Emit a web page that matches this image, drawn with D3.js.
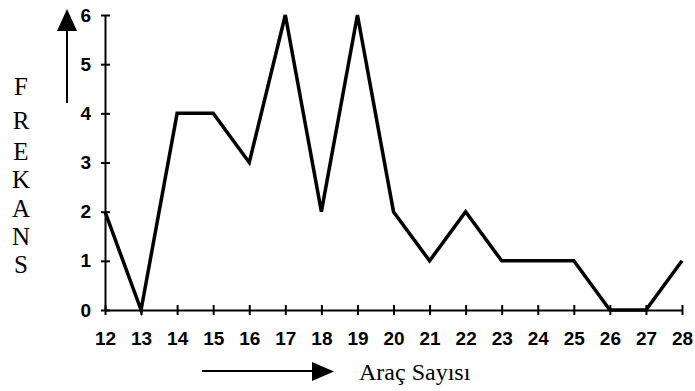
<!DOCTYPE html>
<html>
<head>
<meta charset="utf-8">
<script src="https://cdn.jsdelivr.net/npm/d3@7"></script>
<style>
  html, body { margin: 0; padding: 0; background: #fff; }
  svg { display: block; }
</style>
</head>
<body>
<svg id="chart" width="695" height="391"></svg>
<script>
// Vehicle counts (x) and their observed frequencies (y)
const aracSayisi = [12, 13, 14, 15, 16, 17, 18, 19, 20, 21, 22, 23, 24, 25, 26, 27, 28];
const frekans    = [2, 0, 4, 4, 3, 6, 2, 6, 2, 1, 2, 1, 1, 1, 0, 0, 1];
const yTicks     = [0, 1, 2, 3, 4, 5, 6];
const yLabelLetters = ["F", "R", "E", "K", "A", "N", "S"];
const xTitle = "Araç Sayısı";

const svg = d3.select("#chart");

const x = d3.scaleLinear().domain([12, 28]).range([105, 682]);
const y = d3.scaleLinear().domain([0, 6]).range([310, 15]);

// Axes: ticks cross the axis line on both sides
const yAxis = d3.axisLeft(y).tickValues(yTicks).tickSizeInner(4).tickSizeOuter(0).tickPadding(10)
  .tickFormat(d3.format("d"));
const xAxis = d3.axisBottom(x).tickValues(aracSayisi).tickSizeInner(5).tickSizeOuter(0).tickPadding(17)
  .tickFormat(d3.format("d"));

const gy = svg.append("g").attr("transform", "translate(105,0)").call(yAxis);
const gx = svg.append("g").attr("transform", "translate(0,310)").call(xAxis);

[gy, gx].forEach(g => {
  g.select(".domain").attr("stroke", "#000").attr("stroke-width", 2);
  g.selectAll(".tick line").attr("stroke", "#000").attr("stroke-width", 2);
  g.selectAll(".tick text")
    .attr("fill", "#000")
    .style("font-family", "'Liberation Sans', Arial, sans-serif")
    .style("font-weight", "bold")
    .style("font-size", "19px");
});
// extend tick marks to the other side of the axis line
gy.selectAll(".tick line").attr("x1", 5);
gx.selectAll(".tick line").attr("y1", -5);

// Frequency polygon
const line = d3.line().x((d, i) => x(aracSayisi[i])).y(d => y(d));
svg.append("path")
  .datum(frekans)
  .attr("d", line)
  .attr("fill", "none")
  .attr("stroke", "#000")
  .attr("stroke-width", 3.5)
  .attr("stroke-linejoin", "miter");

// Vertical axis title with upward arrow
svg.append("line").attr("x1", 67).attr("y1", 103).attr("x2", 67).attr("y2", 28)
  .attr("stroke", "#000").attr("stroke-width", 2);
svg.append("path").attr("d", "M67,9 L57,31 L77,31 Z").attr("fill", "#000");

// letter baselines, top to bottom
const letterBaselines = [95, 129, 160, 188, 217, 245, 273];
svg.append("g").selectAll("text")
  .data(yLabelLetters)
  .join("text")
  .attr("x", 21)
  .attr("y", (d, i) => letterBaselines[i])
  .attr("text-anchor", "middle")
  .style("font-family", "'Liberation Serif', 'Times New Roman', serif")
  .style("font-size", "25px")
  .attr("fill", "#000")
  .text(d => d);

// Horizontal axis title with rightward arrow
svg.append("line").attr("x1", 202).attr("y1", 371).attr("x2", 316).attr("y2", 371)
  .attr("stroke", "#000").attr("stroke-width", 2);
svg.append("path").attr("d", "M334,371.5 L312,362 L312,381 Z").attr("fill", "#000");

svg.append("text")
  .attr("x", 359).attr("y", 380)
  .style("font-family", "'Liberation Serif', 'Times New Roman', serif")
  .style("font-size", "24px")
  .attr("fill", "#000")
  .text(xTitle);
</script>
</body>
</html>
